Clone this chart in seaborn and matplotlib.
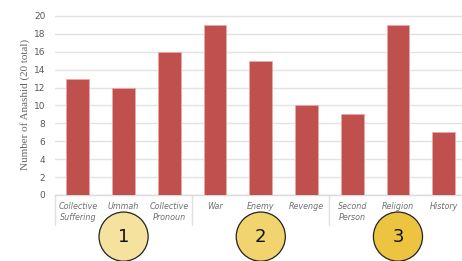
import pandas as pd
import seaborn as sns
from matplotlib import pyplot as plt

categories = ['Collective\nSuffering', 'Ummah', 'Collective\nPronoun', 'War', 'Enemy',
              'Revenge', 'Second\nPerson', 'Religion', 'History']
counts = [13, 12, 16, 19, 15, 10, 9, 19, 7]
group_labels = ['1', '2', '3']
group_centers = [1, 4, 7]
group_colors = ['#F5E29E', '#F2D46E', '#ECC43F']

sns.set_style('white')

df = pd.DataFrame({'category': categories, 'count': counts})

fig = plt.figure(figsize=(4.62, 2.61), dpi=100)
ax = fig.add_axes([0.119, 0.253, 0.881, 0.693])

sns.barplot(data=df, x='category', y='count', color='#C0504D', saturation=1,
            width=0.5, edgecolor='#E9A9A7', linewidth=0.6, ax=ax, zorder=3)

ax.set_ylim(0, 20.2)
ax.set_xlim(-0.5, 8.4)
ax.set_yticks(range(0, 21, 2))
ax.yaxis.grid(True, color='#E3E3E3', linewidth=1.0, zorder=0)
ax.set_axisbelow(True)
for s in ['top', 'right', 'left']:
    ax.spines[s].set_visible(False)
ax.spines['bottom'].set_color('#D9D9D9')
ax.spines['bottom'].set_linewidth(1.0)

ax.tick_params(axis='both', length=0)
ax.tick_params(axis='y', labelsize=6.5, labelcolor='#595959', pad=7)
ax.set_xticks(range(len(categories)))
ax.set_xticklabels(categories, fontsize=5.8, style='italic', color='#707070',
                   linespacing=1.25)
ax.tick_params(axis='x', pad=5)
ax.set_xlabel('')
ax.set_ylabel('Number of Anashid (20 total)', fontsize=8, color='#666666',
              family='Liberation Serif', labelpad=3)

# group separators below the axis
for xs in [-0.5, 2.5, 5.5]:
    ax.plot([xs, xs], [0, -3.3], color='#E0E0E0', linewidth=1.0,
            clip_on=False, zorder=1)

# numbered circles
ax.scatter(group_centers, [-4.65] * 3, s=1250, c=group_colors,
           edgecolors='#222222', linewidths=0.9, clip_on=False, zorder=4)
for x, lab in zip(group_centers, group_labels):
    ax.text(x, -4.75, lab, ha='center', va='center', fontsize=13,
            color='#111111', zorder=5, clip_on=False)

fig.savefig('out.png', dpi=100)
